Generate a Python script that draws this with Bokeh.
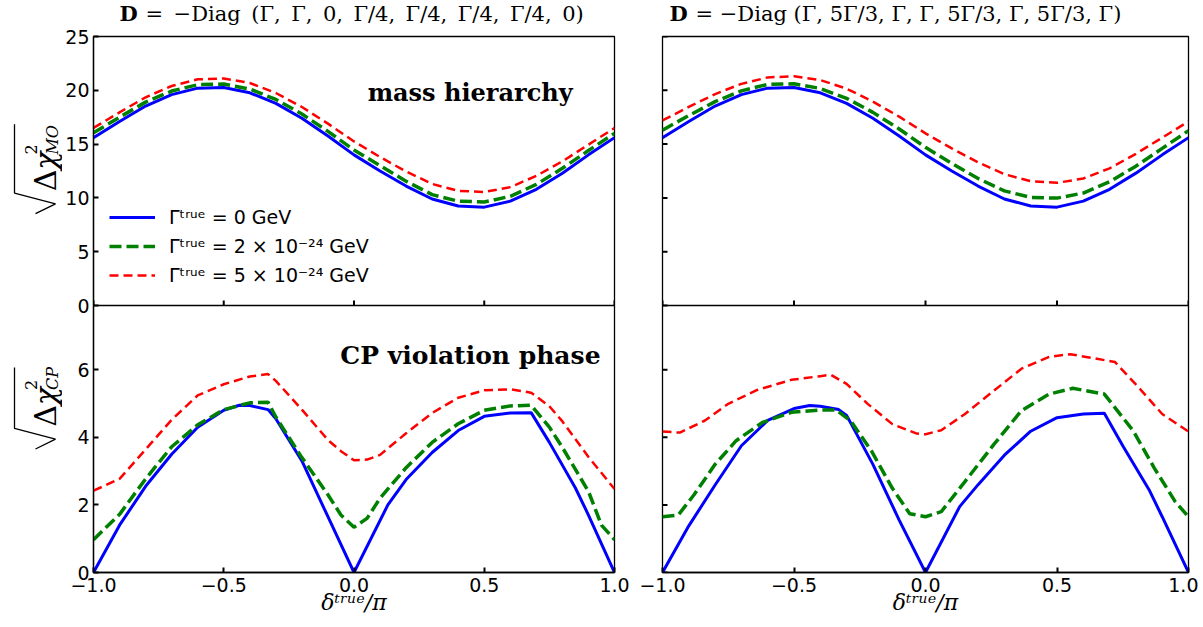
import math
from bokeh.plotting import figure
from bokeh.models import (Range1d, FixedTicker, Label, Legend, LegendItem, CustomJSTickFormatter,
                          Span)
from bokeh.layouts import row, column
from bokeh.embed import file_html
from bokeh.resources import INLINE
from bokeh.core.properties import value

# ---------------- data ----------------
delta_grid = [-1.0, -0.9, -0.8, -0.7, -0.6, -0.5, -0.4, -0.3, -0.2, -0.1, 0.0,
              0.1, 0.2, 0.3, 0.4, 0.5, 0.6, 0.7, 0.8, 0.9, 1.0]

# mass ordering sensitivity, left panel
mo_left_g0 = [15.6, 17.1, 18.54, 19.6, 20.2, 20.26, 19.77, 18.78, 17.4, 15.75, 14.0,
              12.5, 11.1, 9.9, 9.25, 9.14, 9.7, 10.8, 12.3, 14.0, 15.6]
mo_left_g2 = [16.05, 17.5, 18.9, 19.93, 20.52, 20.58, 20.12, 19.15, 17.8, 16.18, 14.45,
              13.0, 11.55, 10.3, 9.7, 9.62, 10.15, 11.25, 12.75, 14.4, 16.0]
mo_left_g5 = [16.5, 17.95, 19.35, 20.4, 21.02, 21.1, 20.68, 19.75, 18.45, 16.9, 15.25,
              13.8, 12.45, 11.3, 10.65, 10.55, 11.0, 12.05, 13.4, 14.95, 16.5]
# mass ordering sensitivity, right panel
mo_right_g0 = [15.6, 17.1, 18.54, 19.6, 20.2, 20.26, 19.77, 18.78, 17.4, 15.75, 14.0,
               12.5, 11.1, 9.9, 9.25, 9.14, 9.7, 10.8, 12.3, 14.0, 15.6]
mo_right_g2 = [16.3, 17.65, 18.95, 19.95, 20.55, 20.6, 20.17, 19.25, 17.95, 16.4, 14.7,
               13.2, 11.8, 10.65, 10.05, 9.98, 10.45, 11.5, 12.95, 14.6, 16.25]
mo_right_g5 = [17.2, 18.45, 19.65, 20.6, 21.2, 21.3, 20.95, 20.15, 18.95, 17.55, 16.0,
               14.6, 13.3, 12.2, 11.55, 11.4, 11.8, 12.75, 14.1, 15.6, 17.1]

# CP violation sensitivity, left panel
cp_left_g0_x = [-1.0, -0.9, -0.8, -0.7, -0.6, -0.5, -0.44, -0.4, -0.33, -0.3, -0.2, -0.1, 0.0,
                0.13, 0.2, 0.3, 0.4, 0.5, 0.6, 0.68, 0.75, 0.85, 0.9, 1.0]
cp_left_g0 = [0.0, 1.4, 2.55, 3.5, 4.3, 4.8, 4.95, 4.94, 4.82, 4.55, 3.3, 1.65, 0.0,
              2.0, 2.75, 3.55, 4.2, 4.62, 4.72, 4.73, 3.85, 2.5, 1.7, 0.0]
cp_left_g2_x = [-1.0, -0.9, -0.8, -0.7, -0.6, -0.5, -0.4, -0.33, -0.3, -0.2, -0.1, -0.05, 0.0,
                0.05, 0.1, 0.2, 0.3, 0.4, 0.5, 0.6, 0.68, 0.75, 0.8, 0.9, 0.95, 1.0]
cp_left_g2 = [0.97, 1.72, 2.77, 3.72, 4.37, 4.82, 5.02, 5.04, 4.6, 3.4, 2.3, 1.7, 1.34,
              1.6, 2.2, 3.1, 3.85, 4.4, 4.8, 4.93, 4.95, 4.3, 3.7, 2.4, 1.4, 0.97]
cp_left_g5_x = [-1.0, -0.9, -0.8, -0.7, -0.6, -0.5, -0.4, -0.33, -0.3, -0.2, -0.1, -0.05, 0.0,
                0.05, 0.1, 0.2, 0.3, 0.4, 0.5, 0.6, 0.68, 0.75, 0.8, 0.9, 1.0]
cp_left_g5 = [2.42, 2.77, 3.64, 4.52, 5.24, 5.57, 5.8, 5.87, 5.67, 4.82, 3.92, 3.59, 3.32,
              3.34, 3.48, 4.12, 4.72, 5.17, 5.39, 5.42, 5.32, 4.92, 4.47, 3.42, 2.47]

# CP violation sensitivity, right panel
cp_right_g0_x = [-1.0, -0.9, -0.8, -0.7, -0.6, -0.5, -0.44, -0.4, -0.33, -0.3, -0.2, -0.1, 0.0,
                 0.13, 0.2, 0.3, 0.4, 0.5, 0.6, 0.68, 0.75, 0.85, 0.9, 1.0]
cp_right_g0 = [0.0, 1.38, 2.59, 3.75, 4.5, 4.85, 4.94, 4.92, 4.82, 4.65, 3.2, 1.55, 0.0,
               1.95, 2.6, 3.47, 4.18, 4.58, 4.69, 4.71, 3.75, 2.45, 1.65, 0.0]
cp_right_g2_x = [-1.0, -0.94, -0.88, -0.8, -0.72, -0.62, -0.51, -0.4, -0.34, -0.285, -0.205,
                 -0.126, -0.06, 0.0, 0.06, 0.15, 0.26, 0.365, 0.47, 0.56, 0.68, 0.79, 0.87,
                 0.95, 1.0]
cp_right_g2 = [1.65, 1.7, 2.3, 3.2, 3.9, 4.44, 4.74, 4.81, 4.81, 4.49, 3.59,
               2.49, 1.74, 1.65, 1.8, 2.69, 3.79, 4.79, 5.28, 5.45, 5.28, 4.19, 3.09,
               2.09, 1.65]
cp_right_g5_x = [-1.0, -0.934, -0.84, -0.75, -0.64, -0.51, -0.4, -0.36, -0.3, -0.22, -0.126,
                 -0.033, 0.0, 0.06, 0.15, 0.26, 0.365, 0.47, 0.55, 0.72, 0.81, 0.9, 1.0]
cp_right_g5 = [4.17, 4.14, 4.49, 4.99, 5.4, 5.7, 5.81, 5.85, 5.58, 4.99, 4.39,
               4.11, 4.09, 4.21, 4.69, 5.38, 6.03, 6.38, 6.46, 6.23, 5.48, 4.69, 4.17]

legend_labels = ["Γᵗʳᵘᵉ = 0 GeV", "Γᵗʳᵘᵉ = 2 × 10⁻²⁴ GeV", "Γᵗʳᵘᵉ = 5 × 10⁻²⁴ GeV"]
EN = "\u2002"
title_left = f"={EN}−Diag{EN}(Γ,{EN}Γ,{EN}0,{EN}Γ/4,{EN}Γ/4,{EN}Γ/4,{EN}Γ/4,{EN}0)"
title_right = "= −Diag (Γ, 5Γ/3, Γ, Γ, 5Γ/3, Γ, 5Γ/3, Γ)"
x_ticks = [-1.0, -0.5, 0.0, 0.5, 1.0]
mo_ticks = [0, 5, 10, 15, 20, 25]
cp_ticks = [0, 2, 4, 6]

# ---------------- styles / geometry ----------------
STYLES = [
    dict(line_color="#0000ff", line_width=3),
    dict(line_color="#008000", line_width=3.5, line_dash="12 5"),
    dict(line_color="#ff0000", line_width=2.5, line_dash="9 5"),
]
SERIF = "DejaVu Serif"
SANS = "DejaVu Sans"

FRAME_W_L, FRAME_W_R = 523, 526
TOP_FH, BOT_FH = 269, 267           # the two stacked panels share one frame per column
FRAME_H = TOP_FH + BOT_FH
MO_MAX, CP_MAX = 25, 7.9
CP_TOP = CP_MAX * FRAME_H / BOT_FH  # default range spans whole column, CP panel below CP_MAX
MO_BOT = -MO_MAX * BOT_FH / TOP_FH  # "mo" range spans whole column, MO panel above 0
TITLE_H = 25
TOP_B = 11
BOT_BB = 52
TICK_LEN = 5
TOTAL_W = 1198
YL_W = 62
L_BORDER = 91 - YL_W
FIG_H = TOP_B + FRAME_H + BOT_BB


def mo_to_cp(v):
    return CP_MAX + v * (CP_TOP - CP_MAX) / MO_MAX


tick_pos = cp_ticks + [mo_to_cp(v) for v in mo_ticks]
tick_lab = [str(v) for v in cp_ticks] + [str(v) for v in mo_ticks]

x_fmt = CustomJSTickFormatter(code="return (tick < 0 ? '\\u2212' : '') + Math.abs(tick).toFixed(1);")
y_fmt = CustomJSTickFormatter(args=dict(pos=tick_pos, labs=tick_lab), code="""
let best = 0, bd = 1e9;
for (let i = 0; i < pos.length; i++) { const d = Math.abs(pos[i] - tick); if (d < bd) { bd = d; best = i; } }
return labs[best];
""")


def column_fig(width, bl, br, frame_w, show_y):
    p = figure(width=width, height=FIG_H, x_range=Range1d(-1, 1), y_range=Range1d(0, CP_TOP),
               output_backend="svg", toolbar_location=None, title=None,
               y_axis_location="left" if show_y else None,
               min_border_left=bl, min_border_right=br, min_border_top=TOP_B,
               min_border_bottom=BOT_BB)
    p.extra_y_ranges = {"mo": Range1d(MO_BOT, MO_MAX)}
    p.xgrid.visible = False
    p.ygrid.visible = False
    p.outline_line_color = "black"
    p.outline_line_width = 1.3
    p.outline_line_alpha = 1.0
    for ax in p.axis:
        ax.major_tick_in = TICK_LEN
        ax.major_tick_out = 0
        ax.minor_tick_in = 0
        ax.minor_tick_out = 0
        ax.major_tick_line_width = 2
        ax.major_tick_line_color = "black"
        ax.axis_line_color = "black"
        ax.axis_line_width = 1.3
        ax.major_label_text_font = SANS
        ax.major_label_text_font_size = "19px"
        ax.major_label_text_color = "black"
    if show_y:
        p.yaxis.ticker = FixedTicker(ticks=tick_pos)
        p.yaxis.formatter = y_fmt
        p.yaxis.major_label_standoff = 4
    else:
        ln = TICK_LEN * 2 / frame_w
        p.segment(x0=[-1] * len(tick_pos), y0=tick_pos, x1=[-1 + ln] * len(tick_pos), y1=tick_pos,
                  line_color="black", line_width=2)
    p.xaxis.ticker = FixedTicker(ticks=x_ticks)
    p.xaxis.formatter = x_fmt
    p.xaxis.major_label_standoff = 5
    p.xaxis.axis_label = "δᵗʳᵘᵉ/π"
    p.xaxis.axis_label_text_font = SERIF
    p.xaxis.axis_label_text_font_style = "italic"
    p.xaxis.axis_label_text_font_size = "22px"
    p.xaxis.axis_label_text_color = "black"
    p.xaxis.axis_label_standoff = -5
    # separator between the two panels + inward x ticks on the upper panel's bottom edge
    p.add_layout(Span(location=CP_MAX, dimension="width", line_color="black", line_width=1.3))
    ln = TICK_LEN * CP_TOP / FRAME_H
    p.segment(x0=x_ticks, y0=[CP_MAX] * len(x_ticks), x1=x_ticks, y1=[CP_MAX + ln] * len(x_ticks),
              line_color="black", line_width=2)
    return p


p_L = column_fig(L_BORDER + FRAME_W_L + 24, L_BORDER, 24, FRAME_W_L, True)
p_R = column_fig(24 + FRAME_W_R + 10, 24, 10, FRAME_W_R, False)

rs = []
for ys, st in zip([mo_left_g0, mo_left_g2, mo_left_g5], STYLES):
    rs.append(p_L.line(delta_grid, ys, y_range_name="mo", **st))
for ys, st in zip([mo_right_g0, mo_right_g2, mo_right_g5], STYLES):
    p_R.line(delta_grid, ys, y_range_name="mo", **st)
for xs, ys, st in zip([cp_left_g0_x, cp_left_g2_x, cp_left_g5_x],
                      [cp_left_g0, cp_left_g2, cp_left_g5], STYLES):
    p_L.line(xs, ys, **st)
for xs, ys, st in zip([cp_right_g0_x, cp_right_g2_x, cp_right_g5_x],
                      [cp_right_g0, cp_right_g2, cp_right_g5], STYLES):
    p_R.line(xs, ys, **st)

legend = Legend(items=[LegendItem(label=lab, renderers=[r]) for lab, r in zip(legend_labels, rs)],
                location=(16, 19 + BOT_FH), glyph_width=46, glyph_height=22, label_height=22,
                label_standoff=14, spacing=7, padding=0, margin=0,
                border_line_color=None, background_fill_alpha=0,
                label_text_font=SANS, label_text_font_size="19px", label_text_color="black")
p_L.add_layout(legend)


# page-pixel -> data helpers for in-frame labels (left frame x 91..614, y 36..572, split at 305)
def lx(px):
    return -1 + 2 * (px - 91) / FRAME_W_L

def cy(py):
    return CP_MAX * (572 - py) / BOT_FH


p_L.add_layout(Label(x=lx(572), y=cy(92), text="mass hierarchy", text_font=SERIF,
                     text_font_style="bold", text_font_size="24px", text_align="right",
                     text_baseline="middle", text_color="black"))
p_L.add_layout(Label(x=lx(600), y=cy(355), text="CP violation phase", text_font=SERIF,
                     text_font_style="bold", text_font_size="25px", text_align="right",
                     text_baseline="middle", text_color="black"))


def strip(width, height, top_page):
    # data coordinates: x = page x, y = -page y
    f = figure(width=width, height=height, output_backend="svg", toolbar_location=None,
               title=None, x_range=Range1d(0, width),
               y_range=Range1d(-(top_page + height), -top_page),
               x_axis_type=None, y_axis_type=None,
               min_border_left=0, min_border_right=0, min_border_top=0, min_border_bottom=0)
    f.xgrid.visible = False
    f.ygrid.visible = False
    f.outline_line_color = None
    return f


DESC = 0.24  # baseline compensation (fraction of font size)

# title strip
t_strip = strip(TOTAL_W, TITLE_H, 0)
tstyle = dict(text_font=value(SERIF), text_align=value("left"), text_baseline=value("middle"),
              text_color=value("black"))
TY = 13
t_strip.text(x=[119, 669], y=[-TY] * 2, text=["D", "D"],
             text_font_style=value("bold"), text_font_size=value("21px"), **tstyle)
t_strip.text(x=[145], y=[-TY], text=[title_left], text_font_size=value("21px"), **tstyle)
t_strip.text(x=[695], y=[-TY], text=[title_right], text_font_size=value("21px"), **tstyle)


def add_ylabel(f, base_x, start_y, sub, end_y):
    common = dict(angle=math.pi / 2, text_align=value("left"), text_baseline=value("alphabetic"),
                  text_color=value("black"), text_font=value(SERIF))
    big, small = 30, 16
    f.text(x=[base_x - DESC * big], y=[-start_y], text=["Δ"], text_font_size=value(f"{big}px"), **common)
    f.text(x=[base_x - DESC * big], y=[-(start_y - 24)], text=["χ"], text_font_style=value("italic"),
           text_font_size=value(f"{big}px"), **common)
    f.text(x=[base_x - 18 - DESC * small], y=[-(start_y - 41)], text=["2"],
           text_font_size=value(f"{small}px"), **common)
    f.text(x=[base_x + 4 - DESC * small], y=[-(start_y - 41)], text=[sub],
           text_font_style=value("italic"), text_font_size=value(f"{small}px"), **common)
    rad_x = [base_x - 17, base_x + 3, base_x - 38, base_x - 38]
    rad_y = [-(start_y + 25), -(start_y + 14), -(start_y + 2), -end_y]
    f.line(rad_x, rad_y, line_color="black", line_width=1.3)


yl = strip(YL_W, FIG_H, TITLE_H)
add_ylabel(yl, 52, 198, "MO", 123)
add_ylabel(yl, 52, 461, "CP", 395)

layout = column(t_strip, row(yl, p_L, p_R))

open("out.html", "w").write(file_html(layout, INLINE))
